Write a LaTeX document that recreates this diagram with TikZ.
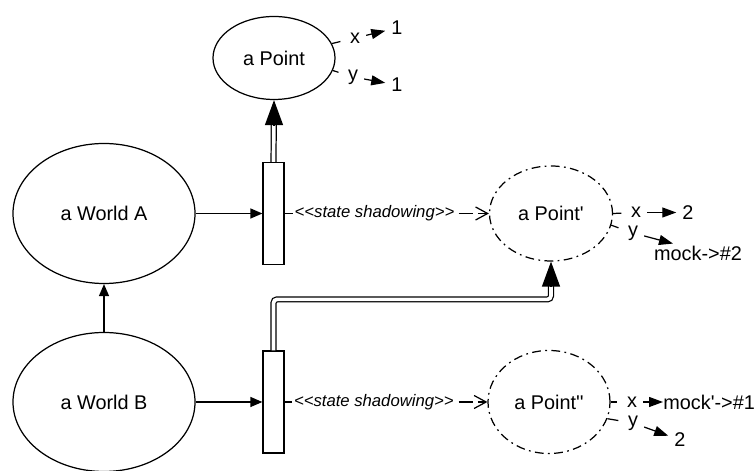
\documentclass[tikz,border=0pt]{standalone}
\usepackage{fontspec}
\setmainfont{Liberation Sans}[Ligatures=TeXOff]
\usetikzlibrary{arrows.meta,shapes.geometric}

\begin{document}
\begin{tikzpicture}[
    font=\fontsize{11.3}{13.5}\selectfont,
    obj/.style={draw,ellipse,line width=0.7pt,inner sep=0pt},
    shadowobj/.style={obj,dash pattern=on 5pt off 2.5pt on 1pt off 2.5pt},
    lifeline/.style={draw,rectangle,line width=0.7pt,minimum width=0.42cm,minimum height=2.04cm,inner sep=0pt},
    slot/.style={draw=none,inner ysep=1pt},
    link/.style={line width=0.7pt,shorten >=2pt},
    valarrow/.style={line width=0.7pt,-{Triangle[length=0.28cm,width=0.2cm]}},
    send/.style={line width=0.7pt,-{Triangle[length=0.24cm,width=0.2cm]}},
    ownsline/.style={line width=0.7pt,double,double distance=2.1pt,shorten >=0.45cm},
    ownstip/.style={line width=0.7pt,-{Triangle[length=0.5cm,width=0.36cm]}},
    shadowline/.style={line width=0.7pt,dash pattern=on 8pt off 3pt,-{Straight Barb[length=0.24cm,width=0.26cm]}},
    stereo/.style={fill=white,inner sep=1pt,font=\fontsize{9.5}{11}\selectfont\itshape}
]
    \useasboundingbox (0,0) rectangle (15.1,9.42);

    \node[obj,minimum width=3.64cm,minimum height=2.8cm](worlda)at(2.08,5.15){a World A};
    \node[obj,minimum width=3.64cm,minimum height=2.78cm](worldb)at(2.08,1.38){a World B};
    \node[obj,minimum width=2.44cm,minimum height=1.66cm](point)at(5.48,8.26){a Point};
    \node[shadowobj,minimum width=2.46cm,minimum height=1.9cm](pointp)at(11.02,5.15){a Point'};
    \node[shadowobj,minimum width=2.44cm,minimum height=2.06cm](pointpp)at(10.98,1.38){a Point''};

    \node[lifeline](bara)at(5.47,5.15){};
    \node[lifeline](barb)at(5.47,1.38){};

    \node[slot](px)at(7.10,8.66){x};
    \node[slot](pxv)at(7.94,8.86){1};
    \node[slot](py)at(7.06,7.88){y};
    \node[slot](pyv)at(7.94,7.72){1};

    \node[slot](ppx)at(12.72,5.17){x};
    \node[slot](ppxv)at(13.76,5.17){2};
    \node[slot](ppy)at(12.66,4.76){y};
    \node[slot](ppyv)at(13.96,4.36){mock->\#2};

    \node[slot](pppx)at(12.64,1.38){x};
    \node[slot,anchor=west,inner xsep=0pt](pppxv)at(13.26,1.38){mock'->\#1};
    \node[slot](pppy)at(12.66,0.96){y};
    \node[slot](pppyv)at(13.6,0.62){2};

    \draw[send] (worlda) to (bara);
    \draw[send] (worldb) to (barb);
    \draw[send] (worldb) to (worlda);
    \draw[ownsline] (bara.north) to (point.south);
    \draw[ownstip] ([yshift=-0.5cm]point.south) to (point.south);
    \draw[ownsline,rounded corners=2pt] (barb.north) -- ++(0,1.02) -| (pointp.south);
    \draw[ownstip] ([yshift=-0.5cm]pointp.south) to (pointp.south);
    \draw[shadowline] (bara) to node[stereo,pos=0.44]{<<state shadowing>>} (pointp);
    \draw[shadowline] (barb) to node[stereo,pos=0.44]{<<state shadowing>>} (pointpp);

    \draw[link] (point.14) to (px);
    \draw[valarrow] (px) to (pxv);
    \draw[link] (point.-12) to (py);
    \draw[valarrow] (py) to (pyv);

    \draw[link] (pointp.east) to (ppx);
    \draw[valarrow] (ppx) to (ppxv);
    \draw[link] (pointp.-11) to (ppy);
    \draw[valarrow] (ppy) to ([xshift=-0.5cm]ppyv.north);

    \draw[link] (pointpp.east) to (pppx);
    \draw[valarrow] (pppx) to (pppxv);
    \draw[link] (pointpp.-16) to (pppy);
    \draw[valarrow] (pppy) to (pppyv);
\end{tikzpicture}
\end{document}
